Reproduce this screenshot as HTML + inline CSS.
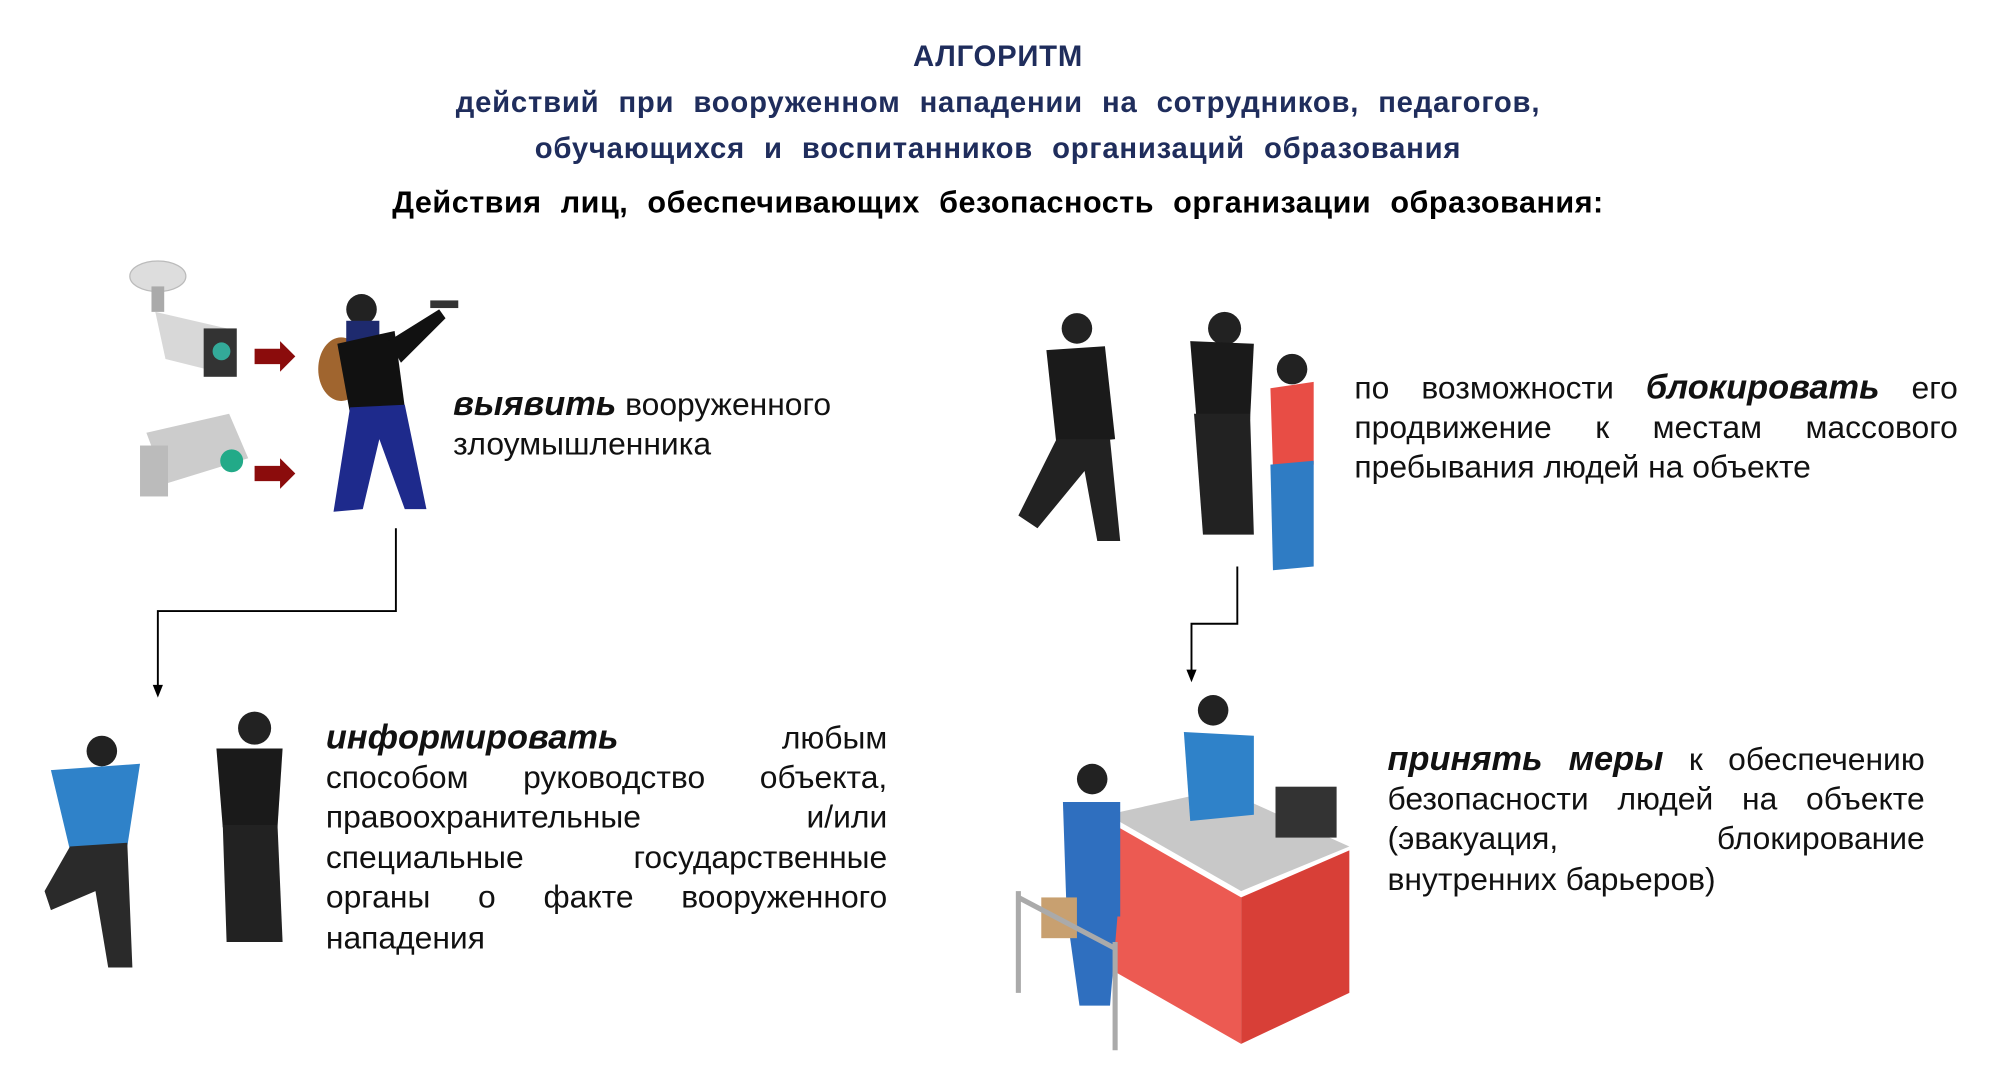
<!DOCTYPE html>
<html><head><meta charset="utf-8"><style>
html,body{margin:0;padding:0;background:#fff;overflow:hidden}
#w{width:1568px;height:845px;position:relative;transform:scale(1.27296);transform-origin:0 0;font-family:"Liberation Sans",sans-serif}
.t{position:absolute;left:0;width:1568px;text-align:center;font-weight:bold;white-space:nowrap}
.n{color:#1f2d5c;font-size:23px;word-spacing:8px;letter-spacing:0.6px}
.p{position:absolute;font-size:25px;line-height:31.6px;color:#111}
.p div{text-align:justify;text-align-last:justify;white-space:nowrap;height:31.6px}
.p div.l{text-align-last:left}
.p b{font-style:italic;font-size:27px}
svg{position:absolute;left:0;top:0}
</style></head><body><div id="w">
<div class="t n" style="top:31px;font-size:23px">АЛГОРИТМ</div>
<div class="t n" style="top:67px">действий при вооруженном нападении на сотрудников, педагогов,</div>
<div class="t n" style="top:103px">обучающихся и воспитанников организаций образования</div>
<div class="t" style="top:146px;font-size:24px;color:#000;word-spacing:8px;letter-spacing:0.4px">Действия лиц, обеспечивающих безопасность организации образования:</div>

<div class="p" style="left:356px;top:302px;width:330px"><div class="l"><b>выявить</b> вооруженного</div><div class="l">злоумышленника</div></div>
<div class="p" style="left:1064px;top:289px;width:474px"><div>по возможности <b>блокировать</b> его</div><div>продвижение к местам массового</div><div class="l">пребывания людей на объекте</div></div>
<div class="p" style="left:256px;top:564px;width:441px"><div><b>информировать</b> любым</div><div>способом руководство объекта,</div><div>правоохранительные и/или</div><div>специальные государственные</div><div>органы о факте вооруженного</div><div class="l">нападения</div></div>
<div class="p" style="left:1090px;top:581px;width:422px"><div><b>принять меры</b> к обеспечению</div><div>безопасности людей на объекте</div><div>(эвакуация, блокирование</div><div class="l">внутренних барьеров)</div></div>

<svg width="1568" height="845" viewBox="0 0 1568 845">
<g fill="none" stroke="#000" stroke-width="1.5">
<polyline points="311,415 311,480 124,480 124,540"/>
<polyline points="972,445 972,490 936,490 936,528"/>
</g>
<polygon points="120,538 128,538 124,548" fill="#000"/>
<polygon points="932,526 940,526 936,536" fill="#000"/>
<ellipse cx="124" cy="217" rx="22" ry="12" fill="#ddd" stroke="#bbb"/>
<rect x="119" y="225" width="10" height="20" fill="#aaa"/>
<polygon points="122,245 178,258 186,296 130,282" fill="#d8d8d8"/>
<rect x="160" y="258" width="26" height="38" fill="#333"/>
<circle cx="174" cy="276" r="7" fill="#3a9"/>
<polygon points="200,274 220,274 220,268 232,280 220,292 220,286 200,286" fill="#8b0c0c"/>
<polygon points="115,340 180,325 195,360 130,380" fill="#ccc"/>
<rect x="110" y="350" width="22" height="40" fill="#bbb"/>
<circle cx="182" cy="362" r="9" fill="#2a8"/>
<polygon points="200,366 220,366 220,360 232,372 220,384 220,378 200,378" fill="#8b0c0c"/>
<ellipse cx="268" cy="290" rx="18" ry="25" fill="#a0652f"/>
<circle cx="284" cy="243" r="12" fill="#222"/>
<rect x="272" y="252" width="26" height="22" fill="#1e2a6e"/>
<polygon points="265,270 310,260 318,320 275,325" fill="#111"/>
<polygon points="305,268 345,243 350,250 315,285" fill="#111"/>
<rect x="338" y="236" width="22" height="6" fill="#333"/>
<polygon points="275,320 318,318 335,400 318,400 298,345 285,400 262,402" fill="#1e2a8c"/>
<circle cx="846" cy="258" r="12" fill="#222"/>
<polygon points="822,275 868,272 876,345 830,350" fill="#1a1a1a"/>
<polygon points="830,345 872,345 880,425 862,425 852,370 815,415 800,405" fill="#222"/>
<circle cx="962" cy="258" r="13" fill="#222"/>
<polygon points="935,268 985,270 982,330 940,330" fill="#1a1a1a"/>
<polygon points="938,325 982,325 985,420 945,420" fill="#222"/>
<circle cx="1015" cy="290" r="12" fill="#222"/>
<polygon points="998,305 1032,300 1032,365 1000,368" fill="#e84d45"/>
<polygon points="998,365 1032,362 1032,445 1000,448" fill="#2f7cc4"/>
<circle cx="80" cy="590" r="12" fill="#222"/>
<polygon points="40,605 110,600 100,665 55,668" fill="#2f82c9"/>
<polygon points="55,665 100,662 104,760 85,760 75,700 40,715 35,700" fill="#2a2a2a"/>
<circle cx="200" cy="572" r="13" fill="#222"/>
<polygon points="170,588 222,588 218,650 175,650" fill="#1a1a1a"/>
<polygon points="175,648 218,648 222,740 178,740" fill="#222"/>
<polygon points="870,640 960,620 1060,665 975,700" fill="#c8c8c8"/>
<polygon points="870,645 975,705 975,820 870,760" fill="#ec5a52"/>
<polygon points="975,705 1060,668 1060,780 975,820" fill="#d83f37"/>
<rect x="1002" y="618" width="48" height="40" fill="#333"/>
<circle cx="953" cy="558" r="12" fill="#222"/>
<polygon points="930,575 985,578 985,640 935,645" fill="#2f82c9"/>
<circle cx="858" cy="612" r="12" fill="#222"/>
<polygon points="835,630 880,630 880,720 838,720" fill="#2f6fbf"/>
<polygon points="838,718 878,718 872,790 848,790" fill="#2f6fbf"/>
<rect x="818" y="705" width="28" height="32" fill="#c8a070"/>
<g stroke="#aaa" stroke-width="4" fill="none"><line x1="800" y1="700" x2="800" y2="780"/><line x1="876" y1="740" x2="876" y2="825"/><line x1="800" y1="705" x2="876" y2="745"/></g>
</svg>
</div></body></html>
